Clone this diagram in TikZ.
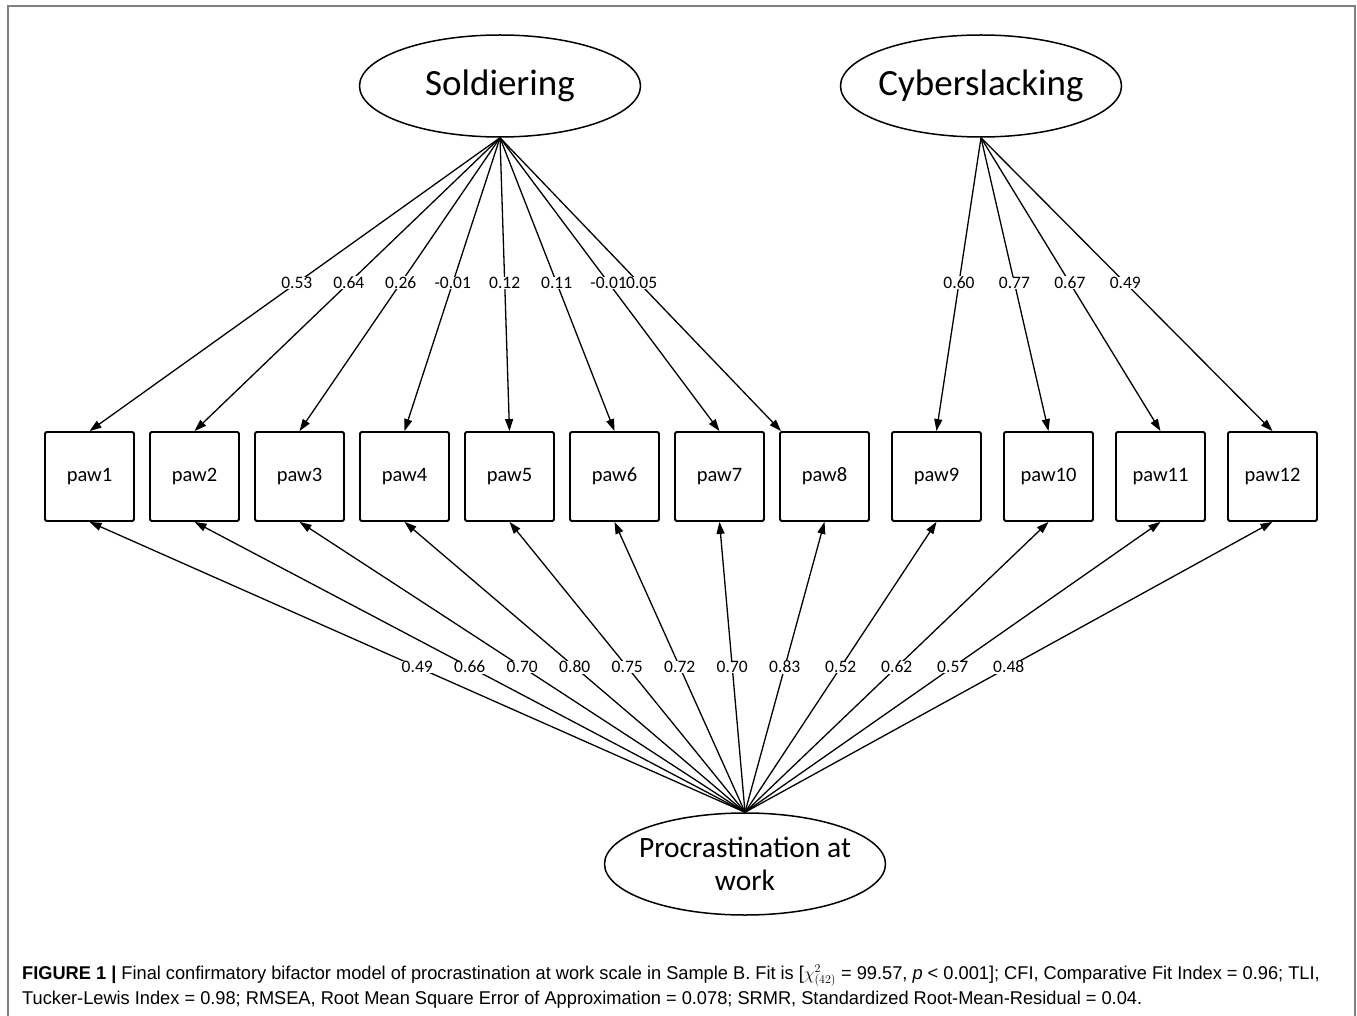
\documentclass[tikz,border=0pt]{standalone}
\usepackage{fontspec}
\setmainfont{Carlito}
\newfontfamily\capfont[FakeStretch=0.985]{Liberation Sans}
\usetikzlibrary{shapes.geometric,arrows.meta}
\tikzset{
  latent/.style={ellipse, draw, line width=1.5pt, minimum width=281pt, minimum height=102pt, inner xsep=-10pt, inner ysep=0pt, font=\fontsize{37}{42}\selectfont},
  obs/.style={rectangle, draw, line width=1.8pt, minimum width=89pt, minimum height=89pt, rounded corners=1.5pt, font=\fontsize{20.5}{24}\selectfont},
  load/.style={-{Triangle[length=12pt,width=8pt]}, line width=1.3pt},
  lbl/.style={fill=white, inner sep=0.5pt, font=\fontsize{17.5}{19}\selectfont},
  frame/.style={draw=black!50, line width=2pt}
}
\begin{document}
\begin{tikzpicture}[x=1pt,y=-1pt]
\useasboundingbox (0,0) rectangle (1357,1016);
\draw[frame] (7.5,1016) -- (7.5,6.5) -- (1355,6.5) -- (1355,1016);

\node[latent] (S) at (500,86) {Soldiering};
\node[latent] (C) at (981,86) {Cyberslacking};
\node[latent, align=center, font=\fontsize{29.5}{33}\selectfont] (P) at (745,864) {Procrastination at\\work};

\foreach \i/\x in {1/89.5,2/194.5,3/299.5,4/404.5,5/509.5,6/614.5,7/719.5,8/824.5,9/936.5,10/1048.5,11/1160.5,12/1272.5}
  \node[obs] (p\i) at (\x,476.5) {paw\i};

% Soldiering loadings
\foreach \i/\v in {1/0.53,2/0.64,3/0.26,4/-0.01,5/0.12,6/0.11,7/-0.01}
  \draw[load] (S.south) -- node[lbl, pos=0.495] {\v} (p\i.north);
\draw[load] (S.south) -- node[lbl, pos=0.495, xshift=2.5pt] {0.05} (p8);

% Cyberslacking loadings
\foreach \i/\v in {9/0.60,10/0.77,11/0.67,12/0.49}
  \draw[load] (C.south) -- node[lbl, pos=0.495] {\v} (p\i.north);

% General factor loadings
\foreach \i/\v in {1/0.49,2/0.66,3/0.70,4/0.80,5/0.75,6/0.72,7/0.70,8/0.83,9/0.52,10/0.62,11/0.57,12/0.48}
  \draw[load] (P.north) -- node[lbl, pos=0.5] {\v} (p\i.south);

\node[anchor=north west, align=left, inner sep=0pt, font=\capfont\fontsize{18.5}{25}\selectfont] (cap) at (22,965)
 {\textbf{FIGURE 1 |} Final confirmatory bifactor model of procrastination at work scale in Sample B. Fit is [$\chi^{2}_{(42)}$ = 99.57, \textit{p} < 0.001]; CFI, Comparative Fit Index = 0.96; TLI,\\
 Tucker-Lewis Index = 0.98; RMSEA, Root Mean Square Error of Approximation = 0.078; SRMR, Standardized Root-Mean-Residual = 0.04.};
\end{tikzpicture}
\end{document}
